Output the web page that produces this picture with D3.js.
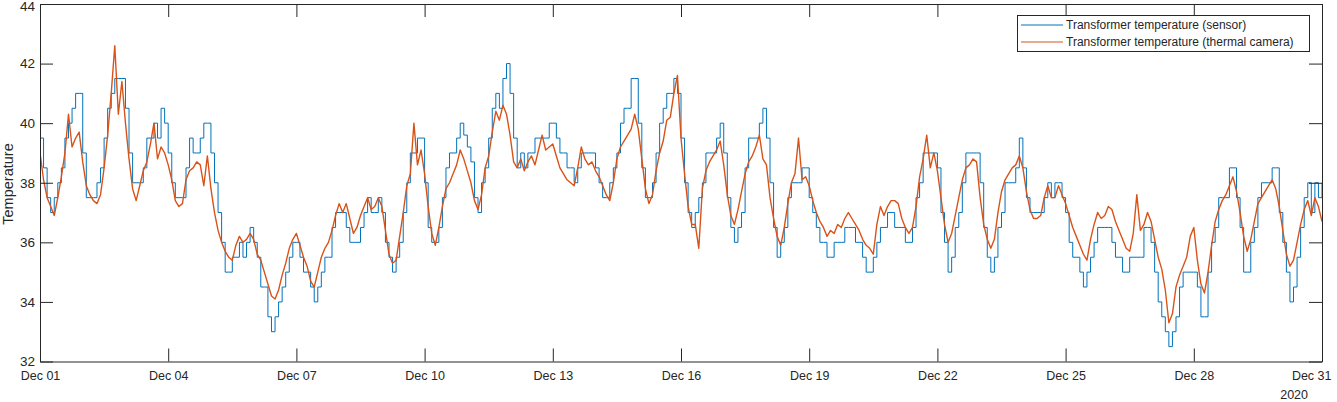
<!DOCTYPE html>
<html><head><meta charset="utf-8">
<script src="https://cdn.jsdelivr.net/npm/d3@7"></script>
<style>
body{margin:0;background:#fff}
svg{display:block}
text{font-family:"Liberation Sans",Arial,sans-serif;fill:#262626}
</style>
</head><body>
<svg id="chart" width="1337" height="402"></svg>
<script>
// ---- data ----
const startDate = new Date(2020, 11, 1, 0, 0, 0);
const endDate = new Date(2020, 11, 31, 0, 0, 0);
const stepHours = 2;
const seriesNames = ["Transformer temperature (sensor)", "Transformer temperature (thermal camera)"];
const yTicks = [32, 34, 36, 38, 40, 42, 44];
const xTickDays = [1, 4, 7, 10, 13, 16, 19, 22, 25, 28, 31];
const xTickLabels = ["Dec 01","Dec 04","Dec 07","Dec 10","Dec 13","Dec 16","Dec 19","Dec 22","Dec 25","Dec 28","Dec 31"];
const yearLabel = "2020";
const yLabel = "Temperature";

// sensor readings, every 2 hours from Dec 01 00:00 (one row per day)
const sensorTemp = [
 39.5,38.5,37.5,37,37.5,38,38.5,39.5,40,40.5,41,41,
 39,37.5,37.5,37.5,38,38.5,39.5,40.5,41,41.5,41.5,41.5,
 40.5,39,38,38,38,38.5,39.5,39.5,40,39.5,40.5,40,
 39,38,37.5,37.5,37.5,38.5,39.5,39,39,39.5,40,40,
 39,38,37,36,35,35,35.5,35.5,36,35.5,36,36.5,
 36,35.5,34.5,34.5,33.5,33,33.5,34,34.5,35,35.5,36,
 36,35.5,35,35,34.5,34,34.5,35,35.5,35.5,36.5,37,
 37,37,36.5,36,36,36,36.5,37,37.5,37,37,37.5,
 37,36,35.5,35,35.5,36,37,38,39,39,39.5,39.5,
 38,36.5,36,36,36.5,37.5,38.5,39,39,39.5,40,39.6,
 39.2,38.7,37.5,37,38,38.5,39.5,40.5,41,40.5,41.5,42,
 41,39.5,38.5,39,38.5,39,39,39.5,39.5,39.5,39.5,40,
 40,39.5,39,39,38.5,38.5,38,38.5,39,39,39,39,
 38.5,38,37.5,37.5,38,38.5,39,40,40.5,40.5,41.5,41.5,
 40,38.5,37.5,37.5,38,39,40,40.5,41,41,41.5,41,
 39.5,38,37,36.5,37,37.5,38,39,39,39,39.5,40,
 39,37.5,36.5,36,36.5,37,38.5,39.5,39.5,39.5,40,40.5,
 39.5,38,36.5,35.5,36,36.5,37.5,38,38,38,38.5,38.5,
 37.5,37,36.5,36,36,35.5,35.5,36,36,36,36.5,36.5,
 36.5,36,36,35.5,35,35,35.5,36,36.5,36.5,37,37,
 36.5,36.5,36.5,36,36,36.5,37.5,38,39,39,39,39,
 38.5,37,36,35,35.5,36.5,37,38,39,39,39,39,
 38,36.5,35.5,35,35.5,36.5,37,38,38,38,38.5,39.5,
 38.5,37.5,37,37,37,37,37.5,38,37.5,38,38,37.5,
 37,36,35.5,35.5,35,34.5,35,35.5,36,36.5,36.5,36.5,
 36.5,36,35.5,35.5,35,35,35.5,35.5,35.5,35.5,36.5,36.5,
 36,35,34,33.5,33,32.5,33,33.5,34.5,35,35,35,
 35,34.5,33.5,33.5,35,36,36.5,37.5,37.5,37.5,38.5,38.5,
 37.5,36.5,35,35,36,36.5,37.5,38,38,38,38.5,38.5,
 37,36,35,34,34.5,35.5,36.5,37.5,38,37,38,37.5,
 38
];

// thermal camera readings, every 2 hours from Dec 01 00:00 (one row per day)
const cameraTemp = [
 39,38.1,37.5,37.2,36.9,37.5,38.2,39,40.3,39.2,39.5,39.7,
 38.7,37.9,37.6,37.4,37.3,37.6,38.5,39.6,41,42.6,40.3,41.4,
 40,38.8,37.8,37.4,37.9,38.4,38.7,39.3,40,38.8,39.2,39,
 38.6,38.1,37.4,37.2,37.3,38.1,38.4,38.5,38.7,38.6,37.9,38.9,
 37.8,37,36.4,36,35.7,35.5,35.4,35.9,36.2,36,36.1,36.3,
 36.1,35.6,35.4,35,34.6,34.2,34.1,34.4,34.9,35.3,35.8,36.1,
 36.3,35.9,35.5,35.2,34.7,34.5,35,35.5,35.8,36,36.4,36.9,
 37.3,37,37.3,36.8,36.3,36.5,36.9,37.2,37.5,37.1,37.2,37.5,
 37.2,36.4,35.6,35.3,35.4,36.2,37,37.9,38.3,40,38.6,39.1,
 38.3,37.2,36.3,35.9,36.5,37.2,37.8,38,38.3,38.6,39.1,38.8,
 38.4,38,37.4,37.1,37.6,38.5,38.9,39.7,40.4,40.1,40.6,40.3,
 39.6,38.7,38.5,38.8,38.4,38.7,38.9,38.6,39.1,39.6,39.1,39.2,
 39.3,38.9,38.5,38.3,38.1,38,37.9,38.5,39.2,38.8,38.6,38.7,
 38.4,38.2,37.9,37.6,37.4,38,38.8,39.2,39.4,39.6,39.8,40.3,
 39.8,38.8,37.8,37.3,37.6,38.4,39,39.4,40.1,40.2,41,41.6,
 39.5,38.3,37.2,36.6,36.6,35.8,37.8,38.4,38.7,38.9,39.1,39.4,
 38.6,37.6,36.9,36.6,37.1,37.7,38.3,38.7,38.9,39.2,39.6,38.8,
 38.6,37.5,36.8,36.2,35.9,36.5,37.3,38,38.3,39.5,38.1,38.2,
 37.9,37.4,37,36.7,36.5,36.2,36.4,36.3,36.6,36.5,36.8,37,
 36.8,36.6,36.4,36.1,35.9,35.8,35.6,36.6,37.2,36.9,37.2,37.4,
 37.4,37.3,36.8,36.5,36.3,36.5,37.2,38.2,38.8,39.6,38.5,39,
 38.4,37.5,36.6,36,36.3,36.9,37.5,38.1,38.5,38.6,38.8,38.7,
 37.5,36.6,36.1,35.8,36.1,37,37.7,38.1,38.3,38.5,38.6,38.9,
 38.5,37.7,37.1,36.8,36.8,36.9,37.5,37.9,37.5,37.5,37.9,37.6,
 37.3,36.9,36.5,36.2,35.9,35.6,35.4,36.1,36.6,37,36.8,36.9,
 37.2,37.1,36.7,36.4,36.1,35.8,35.7,36.3,37.6,36.4,36.6,37,
 36.7,36.1,35.5,35.1,34.4,33.3,33.6,34.5,34.9,35.2,35.5,36.2,
 36.5,35.4,34.6,34.3,35,35.9,36.7,37.1,37.4,37.6,37.9,38.2,
 37.7,37,36.2,35.7,36.1,36.7,37.3,37.5,37.7,37.9,38.1,37.8,
 37.2,36.4,35.6,35.2,35.4,36,36.6,37.1,37.4,36.9,37.5,37.2,
 36.7
];

const seriesColors = ["#0072BD", "#D95319"];

// ---- layout ----
const svg = d3.select("#chart");
const L = 40, R = 1322, T = 4, B = 361.5;
const x = d3.scaleTime().domain([startDate, endDate]).range([L, R]);
const y = d3.scaleLinear().domain([32, 44]).range([B, T]);
const tOf = i => new Date(startDate.getTime() + i * stepHours * 3600e3);
const tickDates = xTickDays.map(d => new Date(2020, 11, d));

svg.append("defs").append("clipPath").attr("id", "clip")
  .append("rect").attr("x", L).attr("y", T).attr("width", R - L).attr("height", B - T);

const g = svg.append("g").attr("clip-path", "url(#clip)");

const sensorLine = d3.line().x((d, i) => x(tOf(i))).y(d => y(d)).curve(d3.curveStepAfter);
const cameraLine = d3.line().x((d, i) => x(tOf(i))).y(d => y(d));

g.append("path").datum(sensorTemp).attr("d", sensorLine)
  .attr("fill", "none").attr("stroke", seriesColors[0]).attr("stroke-width", 1);
g.append("path").datum(cameraTemp).attr("d", cameraLine)
  .attr("fill", "none").attr("stroke", seriesColors[1]).attr("stroke-width", 1.4)
  .attr("stroke-linejoin", "round");

// ---- axes ----
const xFont = 12.5, yFont = 13.5;
function styleAxis(sel, fs) {
  sel.select(".domain").attr("stroke", "#262626").attr("stroke-width", 1);
  sel.selectAll(".tick line").attr("stroke", "#262626").attr("stroke-width", 1);
  sel.selectAll("text").attr("fill", "#262626").attr("font-size", fs)
    .attr("font-family", '"Liberation Sans",Arial,sans-serif');
}
const xb = svg.append("g").attr("transform", `translate(0,${B})`)
  .call(d3.axisBottom(x).tickValues(tickDates).tickFormat((d, i) => xTickLabels[i])
    .tickSizeInner(-13).tickSizeOuter(0).tickPadding(10));
styleAxis(xb, xFont);
// MATLAB keeps the last label inside the figure
xb.selectAll(".tick text").filter((d, i) => i === xTickDays.length - 1)
  .attr("text-anchor", "end").attr("x", 1331 - R);
const xt = svg.append("g").attr("transform", `translate(0,${T})`)
  .call(d3.axisTop(x).tickValues(tickDates).tickFormat("").tickSizeInner(-13).tickSizeOuter(0));
styleAxis(xt, xFont);
const yl = svg.append("g").attr("transform", `translate(${L},0)`)
  .call(d3.axisLeft(y).tickValues(yTicks).tickFormat(d3.format("d"))
    .tickSizeInner(-13).tickSizeOuter(0).tickPadding(5));
styleAxis(yl, yFont);
yl.selectAll(".tick text").filter(d => d === 44).attr("dy", "0.45em");
const yr = svg.append("g").attr("transform", `translate(${R},0)`)
  .call(d3.axisRight(y).tickValues(yTicks).tickFormat("").tickSizeInner(-13).tickSizeOuter(0));
styleAxis(yr, yFont);

svg.append("text").attr("x", 1308).attr("y", 399).attr("text-anchor", "end")
  .attr("font-size", xFont).text(yearLabel);
svg.append("text").attr("transform", "translate(8,184) rotate(-90)")
  .attr("text-anchor", "middle").attr("dominant-baseline", "central")
  .attr("font-size", 14.5).text(yLabel);

// ---- legend ----
const lg = svg.append("g");
lg.append("rect").attr("x", 1017.5).attr("y", 15.5).attr("width", 292).attr("height", 36)
  .attr("fill", "#fff").attr("stroke", "#262626").attr("stroke-width", 1);
seriesNames.forEach((name, i) => {
  const yy = 25 + i * 17;
  lg.append("line").attr("x1", 1021).attr("x2", 1063).attr("y1", yy).attr("y2", yy)
    .attr("stroke", seriesColors[i]).attr("stroke-width", 1);
  lg.append("text").attr("x", 1066).attr("y", yy).attr("dominant-baseline", "central")
    .attr("font-size", 12).text(name);
});
</script>
</body></html>
